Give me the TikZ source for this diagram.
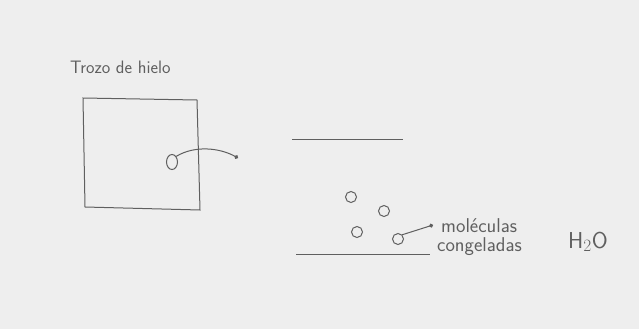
\documentclass[tikz,border=0pt]{standalone}
\usepackage{tikz}
\usetikzlibrary{arrows.meta,shapes.geometric}
\definecolor{papel}{RGB}{238,238,238}
\definecolor{lapiz}{RGB}{95,95,95}
\begin{document}
\begin{tikzpicture}[x=1pt,y=-1pt,
  trazo/.style={draw=lapiz,line width=1pt},
  mol/.style={circle,draw=lapiz,line width=1pt,minimum size=11pt,inner sep=0pt},
  texto/.style={text=lapiz,font=\sffamily\fontsize{18}{20}\selectfont,inner sep=0pt}]
\fill[papel] (0,0) rectangle (639,329);
\useasboundingbox (0,0) rectangle (639,329);
\node[texto,anchor=base west] (titulo) at (70,74) {Trozo de hielo};
\draw[trazo] (83,98) -- (197,100) -- (200,210) -- (85,207) -- cycle;
\node[mol,ellipse,minimum width=11pt,minimum height=15pt] (m0) at (172,162) {};
\coordinate (p0) at (238,158);
\draw[trazo,-{Circle[length=4pt]}] (m0.north east) .. controls (195,145) and (220,148) .. (p0);
\draw[trazo] (292,139) -- (403,139);
\draw[trazo] (296,254) -- (430,254);
\node[mol] (m1) at (351,197) {};
\node[mol] (m2) at (384,211) {};
\node[mol] (m3) at (357,232) {};
\node[mol] (m4) at (398,239) {};
\coordinate (p1) at (433,225);
\draw[trazo,-{Circle[length=4pt]}] (m4.north east) -- (p1);
\node[texto,anchor=base west,font=\sffamily\fontsize{20}{22}\selectfont] (mol1) at (441,232) {moléculas};
\node[texto,anchor=base west,font=\sffamily\fontsize{20}{22}\selectfont] (mol2) at (437,251) {congeladas};
\node[texto,anchor=base west,font=\sffamily\fontsize{23}{25}\selectfont] (agua) at (568,248) {H$_2$O};
\end{tikzpicture}
\end{document}
